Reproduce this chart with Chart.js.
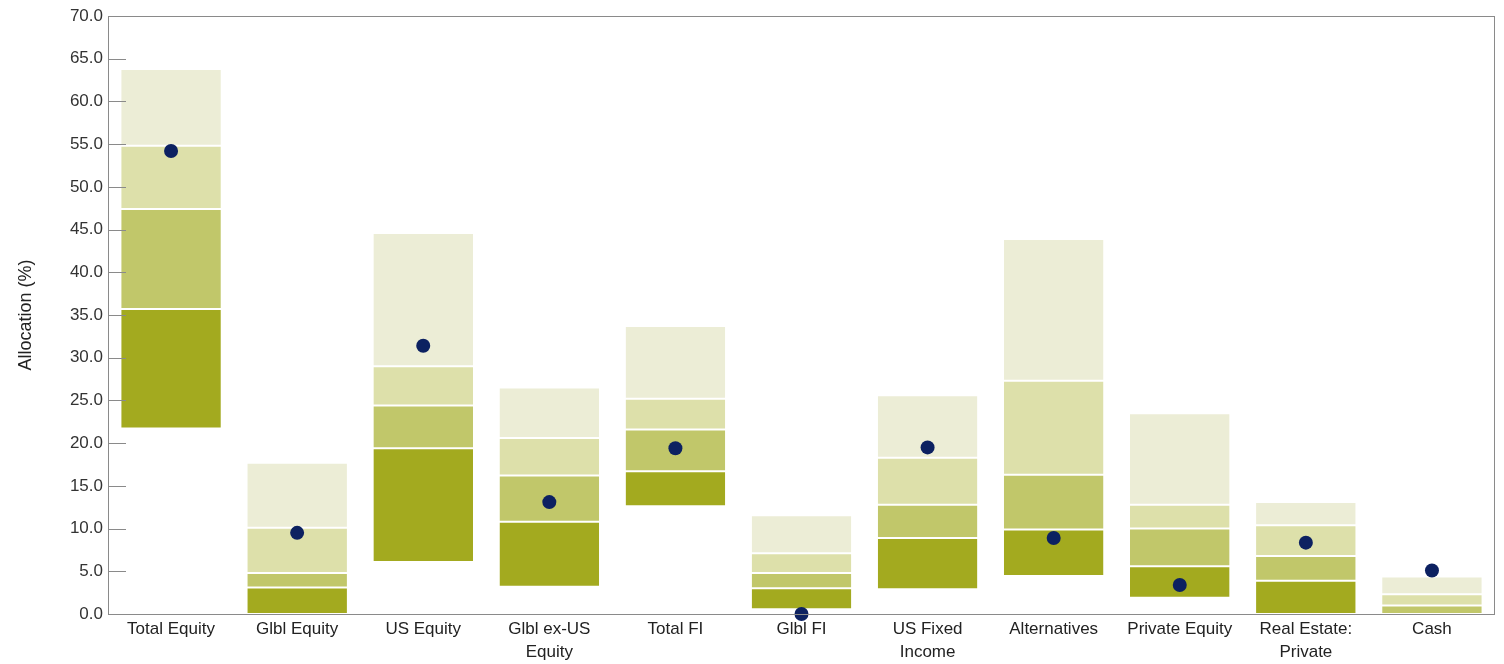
<!DOCTYPE html>
<html>
<head>
<meta charset="utf-8">
<script src="https://cdn.jsdelivr.net/npm/chart.js@4"></script>
<style>
  html, body { margin: 0; padding: 0; background: #fff; }
  #wrap { width: 1504px; height: 664px; }
</style>
</head>
<body>
<div id="wrap"><canvas id="myChart" width="1504" height="664"></canvas></div>
<script>
const categorie = ["Total Equity", "Glbl Equity", "US Equity", ["Glbl ex-US", "Equity"], "Total FI", "Glbl FI",
    ["US Fixed", "Income"], "Alternatives", "Private Equity", ["Real Estate:", "Private"], "Cash"];

// percentili della distribuzione
const p5  = [21.7,  0.0,  6.1,  3.2, 12.6, 0.55, 2.9,  4.45, 1.9,  0.0, 0.0];
const p25 = [35.7,  3.1, 19.4, 10.8, 16.7, 3.0,  8.9,  9.9,  5.6,  3.9, 0.0];
const p50 = [47.4,  4.8, 24.4, 16.2, 21.6, 4.8, 12.8, 16.3, 10.0,  6.8, 1.0];
const p75 = [54.8, 10.1, 29.0, 20.6, 25.2, 7.1, 18.3, 27.3, 12.8, 10.4, 2.3];
const p95 = [63.8, 17.7, 44.6, 26.5, 33.7, 11.55, 25.6, 43.9, 23.5, 13.1, 4.4];

// allocazione del portafoglio (punti)
const portafoglio = [54.2, 9.5, 31.4, 13.1, 19.4, 0.0, 19.5, 8.9, 3.4, 8.35, 5.1];

const tickY = [0, 5, 10, 15, 20, 25, 30, 35, 40, 45, 50, 55, 60, 65, 70];

const colori = ["#a3aa1f", "#c1c76a", "#dde0aa", "#ecedd6"];
const coloreDot = "#0c2161";

function fascia(basso, alto, colore){
    return {
        type: "bar",
        data: basso.map((v, i) => [v, alto[i]]),
        backgroundColor: colore,
        borderColor: "#ffffff",
        borderWidth: {top: 1, bottom: 1, left: 0, right: 0},
        borderSkipped: false,
        grouped: false,
        barPercentage: 0.79,
        categoryPercentage: 1,
        order: 2
    };
}

// bordo del grafico e tacche interne sull'asse y
const bordoPlugin = {
    id: "bordo",
    afterDraw(chart){
        const c = chart.ctx;
        const a = chart.chartArea;
        const y = chart.scales.y;
        c.save();
        c.strokeStyle = "#8a8a8a";
        c.lineWidth = 1;
        c.strokeRect(a.left + 0.5, a.top + 0.5, a.right - a.left - 1, a.bottom - a.top);
        c.beginPath();
        tickY.forEach(t => {
            const py = Math.round(y.getPixelForValue(t)) + 0.5;
            c.moveTo(a.left, py);
            c.lineTo(a.left + 18, py);
        });
        c.stroke();
        c.restore();
    }
};

Chart.defaults.font.family = "'Liberation Sans', Arial, sans-serif";

new Chart(document.getElementById("myChart"), {
    data: {
        labels: categorie,
        datasets: [
            {
                type: "line",
                data: portafoglio,
                showLine: false,
                pointRadius: 7,
                pointBackgroundColor: coloreDot,
                pointBorderColor: coloreDot,
                pointBorderWidth: 0,
                order: 1,
                clip: false
            },
            fascia(p5, p25, colori[0]),
            fascia(p25, p50, colori[1]),
            fascia(p50, p75, colori[2]),
            fascia(p75, p95, colori[3])
        ]
    },
    options: {
        responsive: false,
        animation: false,
        layout: { padding: { top: 16, right: 9, left: 0, bottom: 0 } },
        plugins: {
            legend: { display: false },
            tooltip: { enabled: false }
        },
        scales: {
            x: {
                grid: { display: false, drawTicks: false },
                border: { display: false },
                ticks: {
                    color: "#222",
                    font: { size: 17, lineHeight: 1.4 },
                    padding: 3,
                    maxRotation: 0,
                    autoSkip: false
                },
                afterFit(scale){ scale.height = 50; }
            },
            y: {
                min: 0,
                max: 70,
                grid: { display: false, drawTicks: false },
                border: { display: false },
                afterBuildTicks(scale){ scale.ticks = tickY.map(v => ({value: v})); },
                ticks: {
                    color: "#333",
                    font: { size: 17 },
                    padding: 5,
                    callback: v => v.toFixed(1)
                },
                title: {
                    display: true,
                    text: "Allocation (%)",
                    color: "#222",
                    font: { size: 18 },
                    padding: { top: 15, bottom: 0 }
                },
                afterFit(scale){ scale.width = 108; }
            }
        }
    },
    plugins: [bordoPlugin]
});
</script>
</body>
</html>
